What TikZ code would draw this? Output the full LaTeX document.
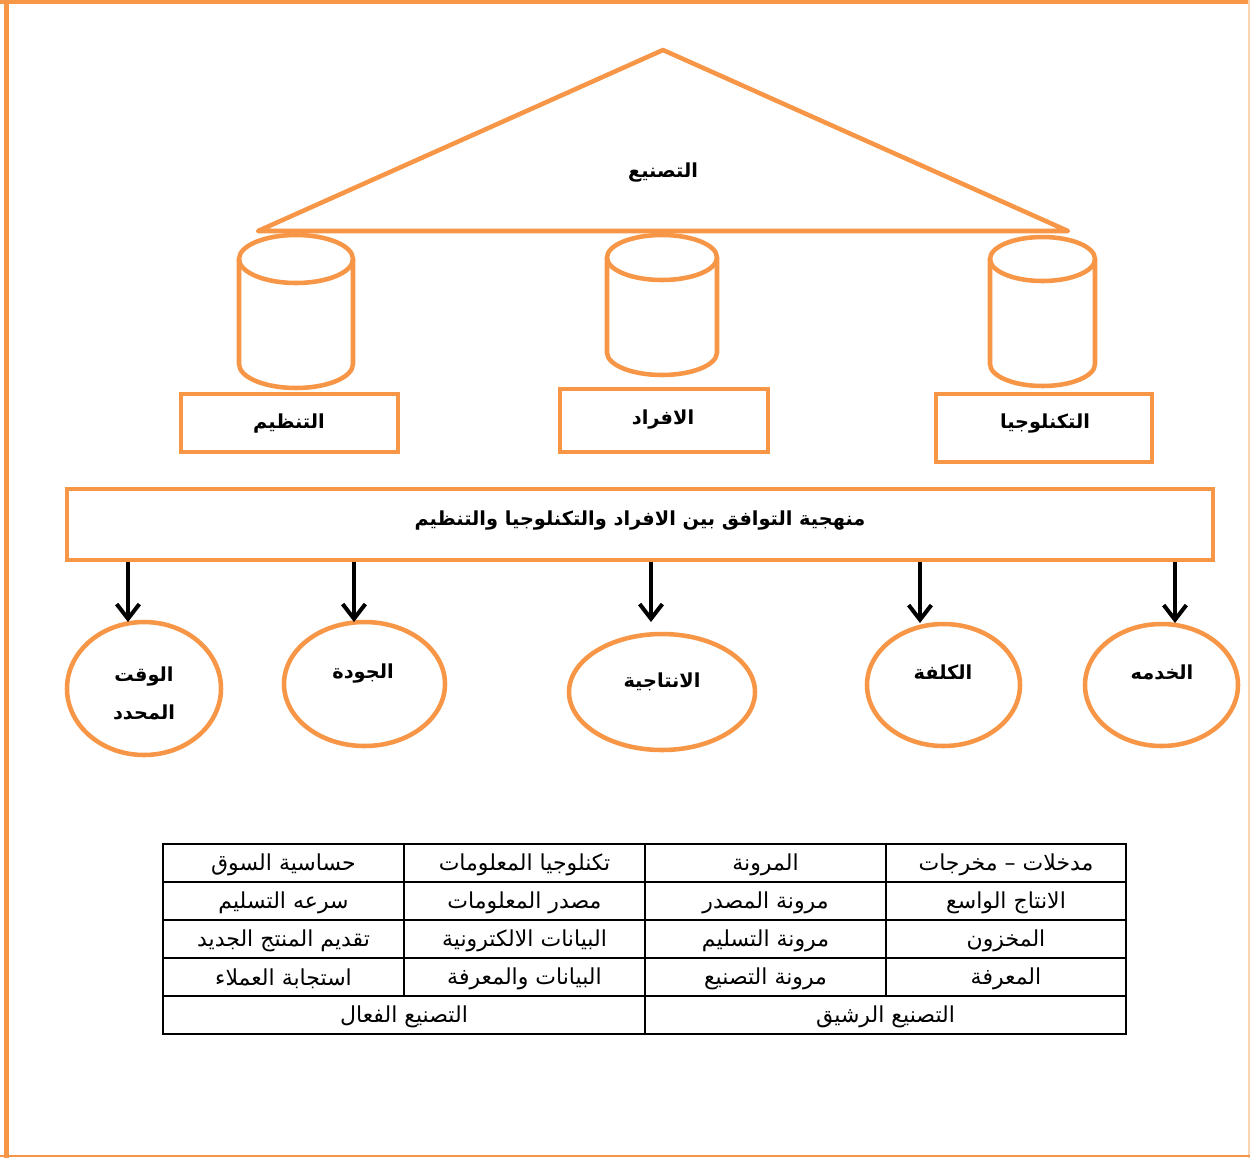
\documentclass[tikz,border=0pt]{standalone}
\usepackage{fontspec}
\usetikzlibrary{shapes.geometric,arrows.meta}
\TeXXeTstate=1
\newfontfamily\arabicfont[Script=Arabic]{DejaVu Sans}
\definecolor{acc}{HTML}{F79646}
\definecolor{accl}{HTML}{FBD4B4}
\newcommand{\artxt}[1]{\beginR #1\endR}

\begin{document}
\begin{tikzpicture}[x=0.75pt,y=-0.75pt,
  outl/.style={draw=acc, line width=3.4pt},
  box/.style={outl, rectangle, inner sep=0pt},
  oval/.style={outl, ellipse, inner sep=0pt},
  lbl/.style={font=\arabicfont\bfseries\fontsize{14.5}{22}\selectfont, inner sep=1pt, align=center},
  cell/.style={font=\arabicfont\fontsize{16.5}{20}\selectfont, inner sep=1pt},
  arr/.style={-{Straight Barb[length=11pt,width=17pt,line width=3pt]}, line width=3pt, black},
  grid/.style={draw=black, line width=1.5pt}]

\useasboundingbox (0,0) rectangle (1250,1158);

% page frame
\draw[acc, line width=3.75pt] (6.5,0) -- (6.5,1158);
\draw[acc, line width=3pt] (0,2) -- (1250,2);
\draw[accl, line width=1.5pt] (1248.5,0) -- (1248.5,1158);
\draw[acc, line width=2.2pt] (0,1156) -- (1250,1156);

% roof
\coordinate (apex) at (663,50);
\coordinate (roofR) at (1068,231);
\coordinate (roofL) at (258,231);
\draw[outl, line join=round] (apex) -- (roofR) -- (roofL) -- cycle;
\node[lbl] (roof) at (663,173) {\artxt{التصنيع}};

% three pillars (cylinders)
\foreach \cx/\rx/\ct/\cb/\ry in {296/57/259/364/24, 662/55/257.5/352.5/22.5, 1042.5/52.5/259/364/22}{
  \draw[outl, fill=white] (\cx-\rx,\ct) -- (\cx-\rx,\cb)
     arc[start angle=180, end angle=0, x radius=\rx, y radius=\ry] -- (\cx+\rx,\ct);
  \draw[outl] (\cx,\ct) ellipse [x radius=\rx, y radius=\ry];
}

% pillar bases
\node[box, minimum width=162.75pt, minimum height=43.5pt] (org) at (289.5,423) {};
\node[box, minimum width=156pt, minimum height=47.25pt] (ppl) at (664,420.5) {};
\node[box, minimum width=162pt, minimum height=51pt] (tech) at (1044,428) {};
\node[lbl] (orgT) at (289,424) {\artxt{التنظيم}};
\node[lbl] (pplT) at (663,420) {\artxt{الافراد}};
\node[lbl] (techT) at (1045,424) {\artxt{التكنلوجيا}};

% foundation
\node[box, minimum width=859.5pt, minimum height=53.25pt] (base) at (640,524.5) {};
\node[lbl] (baseT) at (640,521) {\artxt{منهجية التوافق بين الافراد والتكنلوجيا والتنظيم}};

% outcomes
\node[oval, minimum width=115.5pt, minimum height=99.75pt] (e1) at (144,688.5) {};
\node[oval, minimum width=120.75pt, minimum height=93pt] (e2) at (364.5,684) {};
\node[oval, minimum width=139.5pt, minimum height=87pt] (e3) at (662,692) {};
\node[oval, minimum width=114.75pt, minimum height=91.5pt] (e4) at (943.5,685) {};
\node[oval, minimum width=114.75pt, minimum height=91.5pt] (e5) at (1161.5,685) {};

\node[lbl] (e1T) at (144,693) {\artxt{الوقت}\\[6.5pt]\artxt{المحدد}};
\node[lbl] (e2T) at (363,674) {\artxt{الجودة}};
\node[lbl] (e3T) at (662,682) {\artxt{الانتاجية}};
\node[lbl] (e4T) at (943,672) {\artxt{الكلفة}};
\node[lbl] (e5T) at (1162,672) {\artxt{الخدمه}};

% arrow tips on the outcome ovals
\coordinate (t1) at (128,622);
\coordinate (t2) at (354,622);
\coordinate (t3) at (651,622);
\coordinate (t4) at (920,623);
\coordinate (t5) at (1175,623);
\foreach \i in {1,...,5}{
  \draw[arr] (base.south -| t\i) -- (t\i);
}

% comparison table
\draw[grid] (163,844) rectangle (1126,1034);
\foreach \yy in {882,920,958,996}{
  \draw[grid] (163,\yy) -- (1126,\yy);
}
\draw[grid] (404,844) -- (404,996);
\draw[grid] (886,844) -- (886,996);
\draw[grid] (645,844) -- (645,1034);

\node[cell] (c11) at (1006,865) {\artxt{مدخلات – مخرجات}};
\node[cell] (c12) at (765.5,865) {\artxt{المرونة}};
\node[cell] (c13) at (524.5,865) {\artxt{تكنلوجيا المعلومات}};
\node[cell] (c14) at (283.5,865) {\artxt{حساسية السوق}};

\node[cell] (c21) at (1006,903) {\artxt{الانتاج الواسع}};
\node[cell] (c22) at (765.5,903) {\artxt{مرونة المصدر}};
\node[cell] (c23) at (524.5,903) {\artxt{مصدر المعلومات}};
\node[cell] (c24) at (283.5,903) {\artxt{سرعه التسليم}};

\node[cell] (c31) at (1006,941) {\artxt{المخزون}};
\node[cell] (c32) at (765.5,941) {\artxt{مرونة التسليم}};
\node[cell] (c33) at (524.5,941) {\artxt{البيانات الالكترونية}};
\node[cell] (c34) at (283.5,941) {\artxt{تقديم المنتج الجديد}};

\node[cell] (c41) at (1006,979) {\artxt{المعرفة}};
\node[cell] (c42) at (765.5,979) {\artxt{مرونة التصنيع}};
\node[cell] (c43) at (524.5,979) {\artxt{البيانات والمعرفة}};
\node[cell] (c44) at (283.5,979) {\artxt{استجابة العملاء}};

\node[cell] (lean) at (885.5,1017) {\artxt{التصنيع الرشيق}};
\node[cell] (agile) at (404,1017) {\artxt{التصنيع الفعال}};

\end{tikzpicture}
\end{document}
